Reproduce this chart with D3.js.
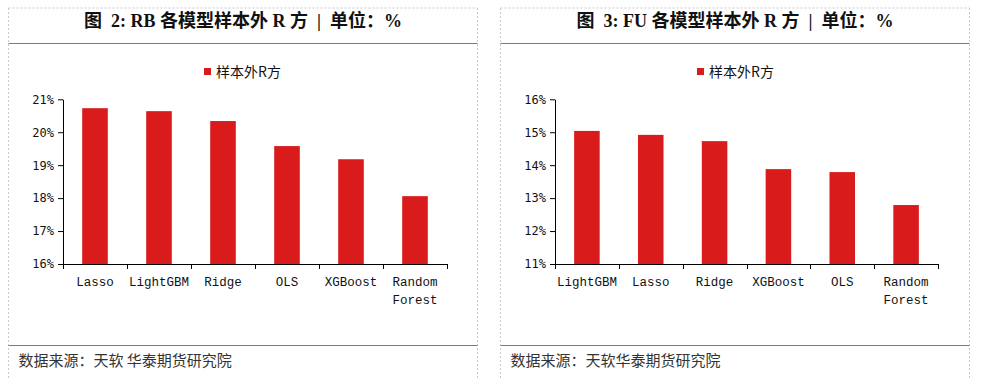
<!DOCTYPE html>
<html>
<head>
<meta charset="utf-8">
<script src="https://cdn.jsdelivr.net/npm/d3@7/dist/d3.min.js"></script>
<style>
  html, body { margin: 0; padding: 0; background: #fff; }
  svg { display: block; }
</style>
</head>
<body>
<svg id="chart" width="986" height="379"></svg>
<script>
// ---- data ----
const rbTitle = "图  2: RB 各模型样本外 R 方  |  单位：%";
const rbCategories = ["Lasso", "LightGBM", "Ridge", "OLS", "XGBoost", "Random Forest"];
const rbValues = [20.73, 20.64, 20.34, 19.58, 19.18, 18.06];
const rbTicks = [16, 17, 18, 19, 20, 21];
const rbSource = "数据来源：天软 华泰期货研究院";

const fuTitle = "图  3: FU 各模型样本外 R 方  |  单位：%";
const fuCategories = ["LightGBM", "Lasso", "Ridge", "XGBoost", "OLS", "Random Forest"];
const fuValues = [15.04, 14.92, 14.73, 13.88, 13.79, 12.79];
const fuTicks = [11, 12, 13, 14, 15, 16];
const fuSource = "数据来源：天软华泰期货研究院";

const legendLabel = "样本外R方";

// ---- drawing ----
const svg = d3.select("#chart");
const barColor = "#d91b1b";

function drawPanel(opt) {
  const g = svg.append("g");
  const L = opt.left, R = opt.right, T = 8, B = 379;

  // dashed panel border
  g.append("line").attr("x1", L).attr("x2", R).attr("y1", T).attr("y2", T)
    .attr("stroke", "#c9c9c9").attr("stroke-dasharray", "2,2");
  g.append("line").attr("x1", L).attr("x2", L).attr("y1", T).attr("y2", B)
    .attr("stroke", "#c9c9c9").attr("stroke-dasharray", "2,2");
  g.append("line").attr("x1", R).attr("x2", R).attr("y1", T).attr("y2", B)
    .attr("stroke", "#c9c9c9").attr("stroke-dasharray", "2,2");

  // separators
  g.append("line").attr("x1", L).attr("x2", R).attr("y1", 43.5).attr("y2", 43.5)
    .attr("stroke", "#9e6a6a").attr("stroke-width", 1);
  g.append("line").attr("x1", L).attr("x2", R).attr("y1", 345.5).attr("y2", 345.5)
    .attr("stroke", "#9e6a6a").attr("stroke-width", 1);

  // title
  g.append("text").attr("x", (L + R) / 2).attr("y", 26.5)
    .attr("text-anchor", "middle")
    .attr("xml:space", "preserve").style("white-space", "pre")
    .attr("font-family", "'Liberation Serif', 'Noto Sans CJK SC', serif")
    .attr("font-weight", "bold").attr("font-size", 18).attr("fill", "#111")
    .text(opt.title);

  // source
  g.append("text").attr("x", L + 10).attr("y", 365.5)
    .attr("font-family", "'Noto Sans CJK SC', sans-serif")
    .attr("font-size", 15).attr("fill", "#333")
    .text(opt.source);

  // legend
  const lg = g.append("g").attr("transform", `translate(${opt.legendX},0)`);
  lg.append("rect").attr("x", 0).attr("y", 68).attr("width", 7).attr("height", 7).attr("fill", barColor);
  lg.append("text").attr("x", 12).attr("y", 77)
    .attr("font-family", "'Noto Sans CJK SC', sans-serif")
    .attr("font-size", 14).attr("fill", "#111").text(legendLabel);

  // scales
  const y = d3.scaleLinear().domain([opt.ticks[0], opt.ticks[opt.ticks.length - 1]]).range([264, 99.3]);
  const x = d3.scaleBand().domain(opt.categories).range([opt.axisX0, opt.axisX1]).paddingInner(0).paddingOuter(0);
  const bw = x.bandwidth() * 0.4;

  // bars
  g.selectAll("rect.bar").data(opt.categories).enter().append("rect")
    .attr("class", "bar")
    .attr("x", d => x(d) + (x.bandwidth() - bw) / 2)
    .attr("width", bw)
    .attr("y", (d, i) => y(opt.values[i]))
    .attr("height", (d, i) => y(opt.ticks[0]) - y(opt.values[i]))
    .attr("fill", barColor);

  // y axis
  const ya = g.append("g").attr("transform", `translate(${opt.axisX0},0)`)
    .call(d3.axisLeft(y).tickValues(opt.ticks).tickFormat(d => d + "%").tickSize(5).tickSizeOuter(0).tickPadding(4));
  ya.select(".domain").attr("stroke", "#000");
  ya.selectAll(".tick line").attr("stroke", "#000");
  ya.selectAll("text").attr("font-family", "'DejaVu Sans Mono', monospace").attr("font-size", 12).attr("fill", "#111");

  // x axis line + boundary ticks
  const xa = g.append("g");
  xa.append("line").attr("x1", opt.axisX0).attr("x2", opt.axisX1).attr("y1", 264.5).attr("y2", 264.5).attr("stroke", "#000");
  const bounds = opt.categories.map(c => x(c)).concat([opt.axisX1]);
  xa.selectAll("line.tk").data(bounds).enter().append("line").attr("class", "tk")
    .attr("x1", d => Math.round(d) + 0.5).attr("x2", d => Math.round(d) + 0.5)
    .attr("y1", 264).attr("y2", 269).attr("stroke", "#000");

  // x labels
  opt.categories.forEach(c => {
    const words = c.split(" ");
    const t = xa.append("text").attr("x", x(c) + x.bandwidth() / 2).attr("y", 286)
      .attr("text-anchor", "middle")
      .attr("font-family", "'Liberation Mono', monospace").attr("font-size", 12.5).attr("fill", "#111");
    words.forEach((w, i) => {
      t.append("tspan").attr("x", x(c) + x.bandwidth() / 2).attr("dy", i === 0 ? 0 : 18).text(w);
    });
  });
}

drawPanel({
  left: 8.5, right: 477.5, title: rbTitle, source: rbSource,
  categories: rbCategories, values: rbValues, ticks: rbTicks,
  axisX0: 63, axisX1: 447, legendX: 204
});
drawPanel({
  left: 500.5, right: 969.5, title: fuTitle, source: fuSource,
  categories: fuCategories, values: fuValues, ticks: fuTicks,
  axisX0: 555, axisX1: 938, legendX: 697
});
</script>
</body>
</html>
